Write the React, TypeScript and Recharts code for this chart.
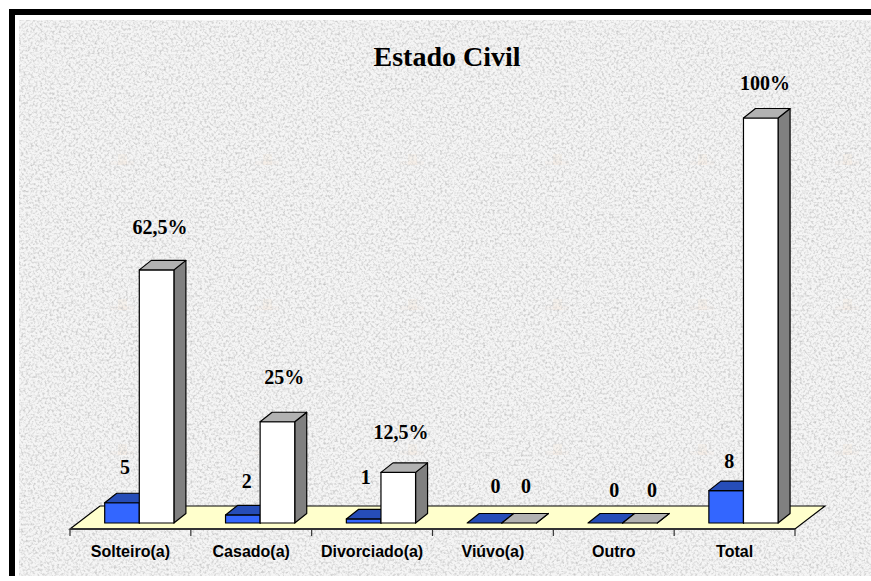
import React from 'react';
import { BarChart, Bar, XAxis, YAxis, LabelList } from 'recharts';

const categories = ['Solteiro(a)', 'Casado(a)', 'Divorciado(a)', 'Viúvo(a)', 'Outro', 'Total'];
const counts = [5, 2, 1, 0, 0, 8];
const percents = [62.5, 25, 12.5, 0, 0, 100];
const percentLabels = ['62,5%', '25%', '12,5%', '0', '0', '100%'];

// hand placed labels in the original, [dx, dy] from the top of each bar
const countNudges = [[3, -29], [4, -27], [2, -35], [11, -30], [9, -26], [3, -23]];
const percentNudges = [[3.5, -36], [6.7, -38], [2.8, -33], [7, -30], [12, -26], [4.3, -28]];

const data = categories.map((name, i) => ({
  name,
  count: counts[i],
  percent: percents[i],
}));

const W = 871;
const H = 581;
const PLOT_LEFT = 70;
const PLOT_RIGHT = 795;
const AXIS_Y = 529;
const BAND = (PLOT_RIGHT - PLOT_LEFT) / categories.length;
const SHIFT = 8.7;
const DX = 12;
const DY = 9.5;
const serif = '"Liberation Serif", "Times New Roman", serif';
const sans = '"Liberation Sans", Arial, sans-serif';

const Bar3D = ({ x, y, width, height, front, top, side }: any) => {
  const l = x + SHIFT;
  const r = l + width;
  const b = y + height;
  return (
    <g stroke="#000" strokeWidth={1.2} strokeLinejoin="round">
      <polygon points={`${r},${y} ${r + DX},${y - DY} ${r + DX},${b - DY} ${r},${b}`} fill={side} />
      <rect x={l} y={y} width={width} height={height} fill={front} />
      <polygon points={`${l},${y} ${l + DX},${y - DY} ${r + DX},${y - DY} ${r},${y}`} fill={top} />
    </g>
  );
};

const Floor = () => (
  <polygon
    points={`${PLOT_LEFT},${AXIS_Y} ${PLOT_LEFT + 30},${AXIS_Y - 23} ${PLOT_RIGHT + 30},${AXIS_Y - 23} ${PLOT_RIGHT},${AXIS_Y}`}
    fill="#FFFFCC"
    stroke="#000"
    strokeWidth={1.2}
  />
);

const CategoryTick = ({ x, payload, index }: any) => (
  <g>
    <line x1={x - BAND / 2} x2={x - BAND / 2} y1={AXIS_Y} y2={AXIS_Y + 7} stroke="#333" strokeWidth={1.2} />
    {index === categories.length - 1 && (
      <line x1={x + BAND / 2} x2={x + BAND / 2} y1={AXIS_Y} y2={AXIS_Y + 7} stroke="#333" strokeWidth={1.2} />
    )}
    <text x={x} y={556.5} textAnchor="middle" fontFamily={sans} fontWeight="bold" fontSize={16} fill="#000">
      {payload.value}
    </text>
  </g>
);

const valueLabel = (nudges: number[][], texts: (string | number)[]) => ({ x, y, width, index }: any) => (
  <text
    x={x + width / 2 + SHIFT + nudges[index][0]}
    y={y + nudges[index][1]}
    textAnchor="middle"
    fontFamily={serif}
    fontWeight="bold"
    fontSize={20}
    fill="#000"
  >
    {texts[index]}
  </text>
);

// stone paper background of the slide
const Backdrop = () => (
  <svg width={W} height={H} style={{ position: 'absolute', left: 0, top: 0 }}>
    <defs>
      <filter id="stone" x="0" y="0" width="100%" height="100%">
        <feTurbulence type="fractalNoise" baseFrequency="0.42" numOctaves={2} seed={7} />
        <feColorMatrix
          type="matrix"
          values="0 0 0 0 0.55  0 0 0 0 0.55  0 0 0 0 0.55  2.2 0 0 0 -0.95"
        />
      </filter>
      <pattern id="mark" x="50" y="20" width="145" height="145" patternUnits="userSpaceOnUse">
        <rect x="68" y="134" width="9" height="22" fill="#F3DCC4" opacity={0.18} />
        <rect x="60" y="141" width="24" height="5" fill="#F3DCC4" opacity={0.12} />
      </pattern>
    </defs>
    <rect width={W} height={H} fill="#fff" />
    <rect x={19} y={20} width={W - 19} height={556} fill="#F5F5F5" />
    <rect x={19} y={20} width={W - 19} height={556} fill="url(#mark)" />
    <rect x={19} y={20} width={W - 19} height={556} filter="url(#stone)" />
    <rect x={9} y={9} width={W - 9} height={6} fill="#000" />
    <rect x={9} y={9} width={6} height={567} fill="#000" />
  </svg>
);

export default function App() {
  return (
    <div style={{ position: 'absolute', left: 0, top: 0, width: W, height: H, overflow: 'hidden' }}>
      <Backdrop />
      <div
        style={{
          position: 'absolute',
          left: 347,
          width: 200,
          top: 42,
          textAlign: 'center',
          fontFamily: serif,
          fontWeight: 'bold',
          fontSize: 28,
          lineHeight: '30px',
          color: '#000',
        }}
      >
        Estado Civil
      </div>
      <BarChart
        width={W}
        height={H}
        data={data}
        margin={{ top: 118, right: W - PLOT_RIGHT, bottom: 0, left: PLOT_LEFT }}
        barSize={34.6}
        barGap={0}
        style={{ position: 'absolute', left: 0, top: 0 }}
      >
        <Floor />
        <XAxis
          dataKey="name"
          interval={0}
          axisLine={{ stroke: '#333', strokeWidth: 2 }}
          tickLine={false}
          tick={<CategoryTick />}
          height={H - AXIS_Y}
        />
        <YAxis hide width={0} domain={[-1.48, 100]} />
        <Bar
          dataKey="count"
          isAnimationActive={false}
          shape={(p: any) => <Bar3D {...p} front="#3366FF" top="#264DB8" side="#264DB8" />}
        >
          <LabelList dataKey="count" content={valueLabel(countNudges, counts)} />
        </Bar>
        <Bar
          dataKey="percent"
          isAnimationActive={false}
          shape={(p: any) => <Bar3D {...p} front="#FFFFFF" top="#B2B2B2" side="#808080" />}
        >
          <LabelList dataKey="percent" content={valueLabel(percentNudges, percentLabels)} />
        </Bar>
      </BarChart>
    </div>
  );
}
